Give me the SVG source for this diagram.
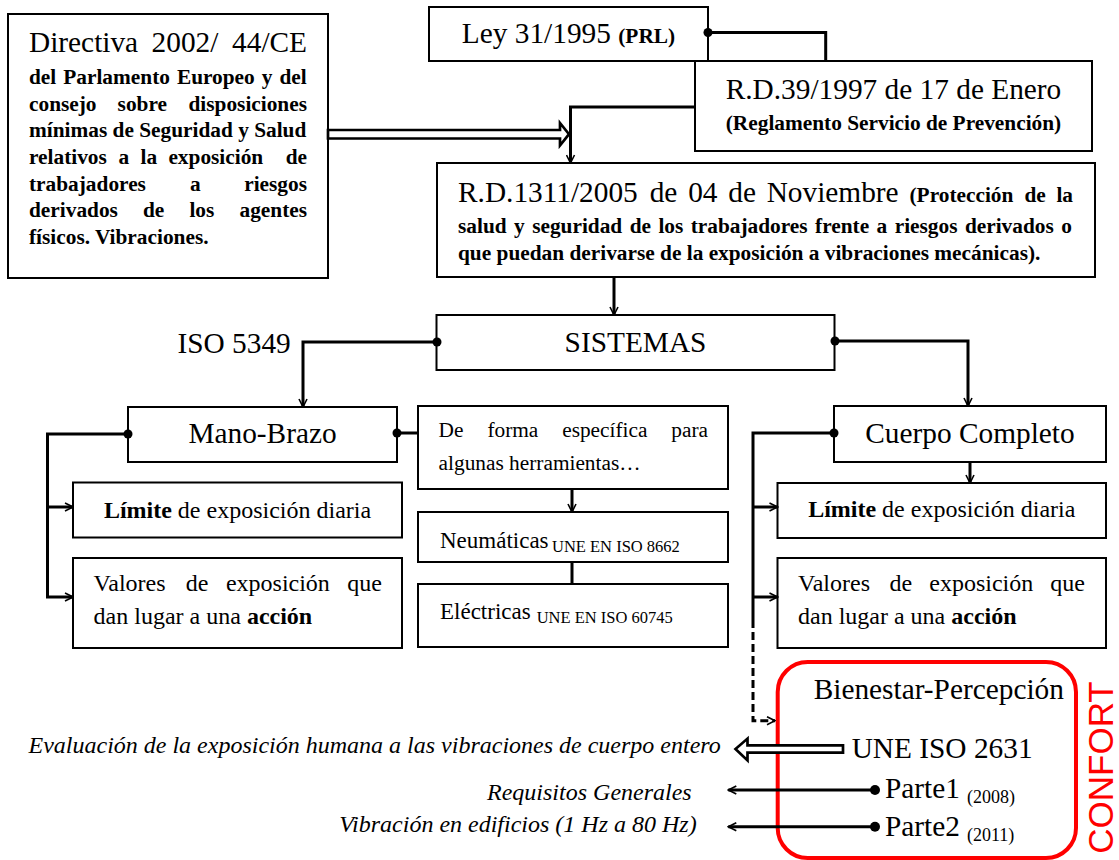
<svg xmlns="http://www.w3.org/2000/svg" width="1119" height="860" viewBox="0 0 1119 860">
  <style>
    .box { fill: #fff; stroke: #000; stroke-width: 2; }
    .t { font-family: "Liberation Serif", "Times New Roman", serif; fill: #000; }
    .lg { font-size: 29.33px; }
    .b21 { font-size: 21.33px; font-weight: bold; }
    .r21 { font-size: 21.33px; }
    .m24 { font-size: 24px; }
    .bold { font-weight: bold; }
    .it { font-size: 24px; font-style: italic; }
    .sub { font-size: 16.5px; }
    .yr { font-size: 18px; }
    .conn { fill: none; stroke: #000; stroke-width: 3; }
    .dash { stroke-dasharray: 8 4; }
    .dot { fill: #000; }
    .hollow { fill: #fff; stroke: #000; stroke-width: 2.7; stroke-linejoin: miter; }
    .mid { text-anchor: middle; }
    .end { text-anchor: end; }
  </style>
  <defs>
    <marker id="arrow" viewBox="0 0 10 10" refX="9" refY="5" markerWidth="10" markerHeight="10" markerUnits="userSpaceOnUse" orient="auto">
      <path d="M1,1 L9,5 L1,9" fill="none" stroke="#000" stroke-width="1.6"/>
    </marker>
  </defs>

  <rect width="1119" height="860" fill="#fff"/>

  <!-- Directiva 2002/44/CE -->
  <g id="directiva">
    <rect class="box" x="8" y="14" width="320" height="264"/>
    <text class="t lg" y="51.7"><tspan x="29">Directiva</tspan><tspan x="151.6">2002/</tspan></text>
    <text class="t lg end" x="307" y="51.7">44/CE</text>
    <text class="t b21" x="29" y="84" style="word-spacing:1.7px">del Parlamento Europeo y del</text>
    <text class="t b21" y="110.7"><tspan x="29">consejo</tspan><tspan x="117.6">sobre</tspan></text>
    <text class="t b21 end" x="307" y="110.7">disposiciones</text>
    <text class="t b21" x="29" y="137.3">mínimas de Seguridad y Salud</text>
    <text class="t b21" y="164"><tspan x="29">relativos</tspan><tspan x="118.5">a</tspan><tspan x="140.5">la</tspan><tspan x="168.4">exposición</tspan></text>
    <text class="t b21 end" x="307" y="164">de</text>
    <text class="t b21" y="190.7"><tspan x="29">trabajadores</tspan><tspan x="189.9">a</tspan></text>
    <text class="t b21 end" x="307" y="190.7">riesgos</text>
    <text class="t b21" y="217.3"><tspan x="29">derivados</tspan><tspan x="143">de</tspan><tspan x="189.4">los</tspan></text>
    <text class="t b21 end" x="307" y="217.3">agentes</text>
    <text class="t b21" x="29" y="244">físicos. Vibraciones.</text>
  </g>

  <!-- Ley 31/1995 -->
  <g id="ley">
    <rect class="box" x="429" y="7" width="279" height="54"/>
    <text class="t mid" x="568.5" y="43"><tspan class="lg">Ley 31/1995 </tspan><tspan class="b21">(PRL)</tspan></text>
  </g>

  <!-- R.D. 39/1997 -->
  <g id="rd39">
    <rect class="box" x="695" y="61" width="397" height="90"/>
    <text class="t lg mid" x="893.5" y="99">R.D.39/1997 de 17 de Enero</text>
    <text class="t b21 mid" x="893.5" y="130">(Reglamento Servicio de Prevención)</text>
  </g>

  <!-- R.D. 1311/2005 -->
  <g id="rd1311">
    <rect class="box" x="437" y="163" width="658" height="114"/>
    <text class="t lg" y="201.7"><tspan x="458">R.D.1311/2005</tspan><tspan x="649.7">de</tspan><tspan x="688.2">04</tspan><tspan x="728.3">de</tspan><tspan x="766.7">Noviembre</tspan></text>
    <text class="t b21" y="201.7"><tspan x="909.5">(Protección</tspan><tspan x="1024.5">de</tspan></text>
    <text class="t b21 end" x="1073" y="201.7">la</text>
    <text class="t b21" x="458" y="233" style="word-spacing:2.1px">salud y seguridad de los trabajadores frente a riesgos derivados o</text>
    <text class="t b21" x="458" y="260">que puedan derivarse de la exposición a vibraciones mecánicas).</text>
  </g>

  <!-- SISTEMAS -->
  <g id="sistemas">
    <rect class="box" x="436.5" y="315" width="398" height="55"/>
    <text class="t lg mid" x="635.5" y="352">SISTEMAS</text>
  </g>

  <g id="label-iso5349">
    <text class="t lg" x="177.5" y="353">ISO 5349</text>
  </g>

  <!-- Mano-Brazo branch -->
  <g id="mano-brazo">
    <rect class="box" x="128" y="407" width="269" height="55"/>
    <text class="t lg mid" x="262.5" y="443">Mano-Brazo</text>
  </g>

  <g id="limite-mb">
    <rect class="box" x="73" y="482.5" width="329" height="55"/>
    <text class="t m24 mid" x="237.5" y="518"><tspan class="bold">Límite</tspan> de exposición diaria</text>
  </g>

  <g id="valores-mb">
    <rect class="box" x="73" y="558" width="329" height="90"/>
    <text class="t m24" y="591"><tspan x="93.6">Valores</tspan><tspan x="185.7">de</tspan><tspan x="225.9">exposición</tspan></text>
    <text class="t m24 end" x="382" y="591">que</text>
    <text class="t m24" x="93.6" y="624">dan lugar a una <tspan class="bold">acción</tspan></text>
  </g>

  <g id="herramientas">
    <rect class="box" x="418" y="406" width="310" height="83"/>
    <text class="t r21" y="437"><tspan x="438.6">De</tspan><tspan x="487.4">forma</tspan><tspan x="562.2">específica</tspan></text>
    <text class="t r21 end" x="708" y="437">para</text>
    <text class="t r21" x="438.6" y="470">algunas herramientas…</text>
  </g>

  <g id="neumaticas">
    <rect class="box" x="418" y="512" width="310" height="50"/>
    <text class="t" style="font-size:23px" x="440" y="548.3">Neumáticas</text>
    <text class="t sub" x="552" y="551.7">UNE EN ISO 8662</text>
  </g>

  <g id="electricas">
    <rect class="box" x="418" y="584" width="310" height="63"/>
    <text class="t" style="font-size:23px" x="440" y="619.3">Eléctricas</text>
    <text class="t sub" x="536.7" y="622.7">UNE EN ISO 60745</text>
  </g>

  <!-- Cuerpo Completo branch -->
  <g id="cuerpo-completo">
    <rect class="box" x="834" y="406" width="272" height="56"/>
    <text class="t lg mid" x="970" y="443">Cuerpo Completo</text>
  </g>

  <g id="limite-cc">
    <rect class="box" x="777.5" y="483" width="328.5" height="55"/>
    <text class="t m24 mid" x="941.75" y="517"><tspan class="bold">Límite</tspan> de exposición diaria</text>
  </g>

  <g id="valores-cc">
    <rect class="box" x="777.5" y="558" width="328.5" height="90"/>
    <text class="t m24" y="591"><tspan x="798">Valores</tspan><tspan x="889.6">de</tspan><tspan x="929.3">exposición</tspan></text>
    <text class="t m24 end" x="1085" y="591">que</text>
    <text class="t m24" x="798" y="624">dan lugar a una <tspan class="bold">acción</tspan></text>
  </g>

  <!-- Comfort (well-being / perception) block -->
  <g id="confort">
    <rect x="777.7" y="662" width="298.3" height="196" rx="30" ry="30" fill="none" stroke="#ff0000" stroke-width="4"/>
    <text class="t lg" x="813.7" y="699">Bienestar-Percepción</text>
    <text class="t lg" x="851.7" y="758.3">UNE ISO 2631</text>
    <text class="t lg" x="885" y="798.3">Parte1</text>
    <text class="t yr" x="967" y="803.3">(2008)</text>
    <text class="t lg" x="885" y="835.7">Parte2</text>
    <text class="t yr" x="967" y="840.7">(2011)</text>
    <text transform="translate(1113,767.5) rotate(-90)" text-anchor="middle" style="font-family:'Liberation Sans', Arial, sans-serif;font-size:35px;fill:#ff0000">CONFORT</text>
  </g>

  <g id="notas">
    <text class="t it" x="28.5" y="753">Evaluación de la exposición humana a las vibraciones de cuerpo entero</text>
    <text class="t it end" x="691.7" y="800">Requisitos Generales</text>
    <text class="t it end" x="696.7" y="832">Vibración en edificios (1 Hz a 80 Hz)</text>
  </g>

  <!-- Connectors -->
  <g id="connectors">
    <path class="conn" d="M708,32.5 H825.7 V61"/>
    <circle class="dot" cx="708" cy="32.5" r="4.5"/>

    <path class="conn" d="M695,107 H570.5 V163" marker-end="url(#arrow)"/>
    <polygon class="hollow" points="328,130 560,130 560,123 569,134.2 560,145.5 560,138.5 328,138.5"/>

    <path class="conn" d="M614,277 V315" marker-end="url(#arrow)"/>

    <path class="conn" d="M437,342 H303 V407" marker-end="url(#arrow)"/>
    <circle class="dot" cx="437" cy="342" r="4.5"/>

    <path class="conn" d="M835,341 H968 V406" marker-end="url(#arrow)"/>
    <circle class="dot" cx="835" cy="341" r="4.5"/>

    <path class="conn" d="M128,434 H47.5 V597 H73" marker-end="url(#arrow)"/>
    <path class="conn" d="M47.5,507 H73" marker-end="url(#arrow)"/>
    <circle class="dot" cx="128" cy="434" r="4.5"/>

    <path class="conn" d="M397,433 H418"/>
    <circle class="dot" cx="397" cy="433" r="4.5"/>

    <path class="conn" d="M572,489 V512" marker-end="url(#arrow)"/>
    <path class="conn" d="M572,562 V584"/>

    <path class="conn" d="M970,462 V483" marker-end="url(#arrow)"/>

    <path class="conn" d="M834,433 H753 V620"/>
    <path class="conn" d="M753,507 H777.5" marker-end="url(#arrow)"/>
    <path class="conn" d="M753,597 H777.5" marker-end="url(#arrow)"/>
    <path class="conn dash" d="M753,620 V720.7 H775" marker-end="url(#arrow)"/>
    <circle class="dot" cx="834" cy="433" r="4.5"/>

    <polygon class="hollow" points="843,745.3 747.5,745.3 747.5,738.6 735.5,749 747.5,760.4 747.5,752.7 843,752.7"/>

    <path class="conn" d="M875,790 H728.3" marker-end="url(#arrow)"/>
    <circle class="dot" cx="875" cy="790" r="5"/>
    <path class="conn" d="M875,826.7 H728.3" marker-end="url(#arrow)"/>
    <circle class="dot" cx="875" cy="826.7" r="5"/>
  </g>
</svg>
